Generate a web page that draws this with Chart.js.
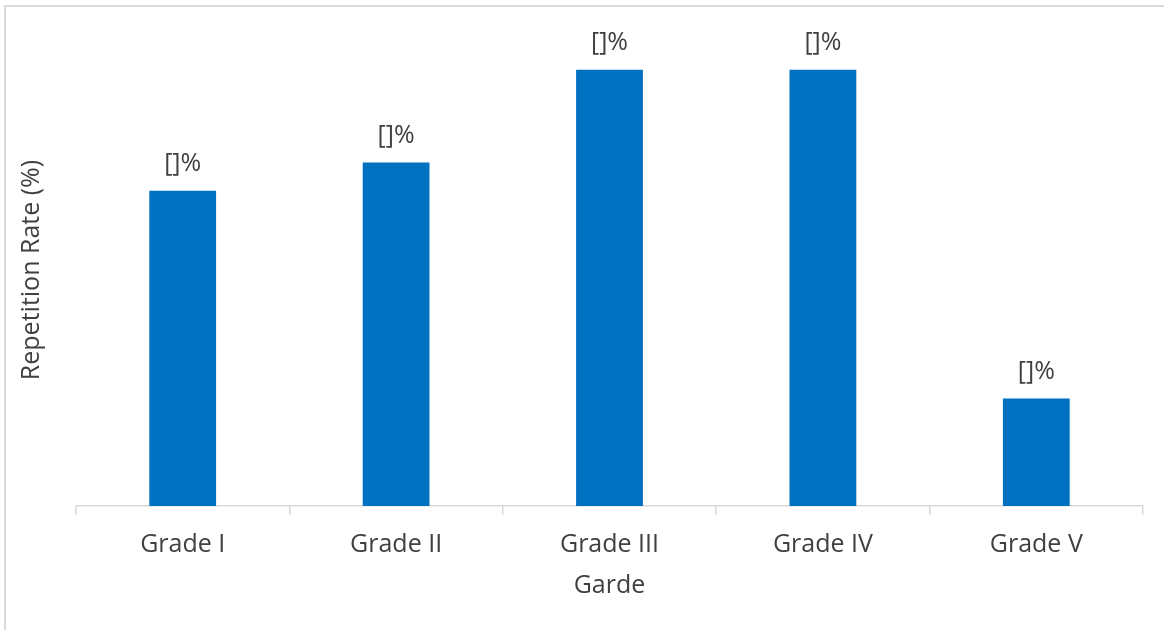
<!DOCTYPE html>
<html>
<head>
<meta charset="utf-8">
<script src="https://cdn.jsdelivr.net/npm/chart.js@4.4.1/dist/chart.umd.min.js"></script>
<style>
  html, body { margin: 0; padding: 0; background: #ffffff; }
  #wrap { width: 1164px; height: 630px; position: relative; }
</style>
</head>
<body>
<div id="wrap"><canvas id="c" width="1164" height="630"></canvas></div>
<script>
// Grades and their repetition rates (%)
const grades = ['Grade I', 'Grade II', 'Grade III', 'Grade IV', 'Grade V'];
const repetitionRates = [16.7, 18.2, 23.1, 23.1, 5.7];
const valueLabels = ['[]%', '[]%', '[]%', '[]%', '[]%'];

const FONT = "'Open Sans', 'Segoe UI', sans-serif";
const FONT_SIZE = 25;
const TEXT = '#404040';
const LINE = '#d9d9d9';

// Light frame around the chart
const framePlugin = {
  id: 'frame',
  beforeDraw(chart) {
    const ctx = chart.ctx;
    ctx.save();
    ctx.fillStyle = '#ffffff';
    ctx.fillRect(0, 0, chart.width, chart.height);
    ctx.strokeStyle = LINE;
    ctx.lineWidth = 2;
    ctx.strokeRect(5, 6, chart.width + 20, chart.height + 20);
    ctx.restore();
  }
};

// Text label above each bar
const valueLabelPlugin = {
  id: 'valueLabels',
  afterDatasetsDraw(chart) {
    const ctx = chart.ctx;
    const meta = chart.getDatasetMeta(0);
    ctx.save();
    ctx.font = FONT_SIZE + 'px ' + FONT;
    ctx.fillStyle = TEXT;
    ctx.textAlign = 'center';
    ctx.textBaseline = 'middle';
    meta.data.forEach((bar, i) => {
      ctx.fillText(valueLabels[i], bar.x, bar.y - 27);
    });
    ctx.restore();
  }
};

new Chart(document.getElementById('c'), {
  type: 'bar',
  data: {
    labels: grades,
    datasets: [{
      data: repetitionRates,
      backgroundColor: '#0070C0',
      borderWidth: 0,
      categoryPercentage: 1,
      barPercentage: 0.313
    }]
  },
  options: {
    responsive: false,
    animation: false,
    devicePixelRatio: 1,
    layout: { padding: { top: 34, right: 21, bottom: 0, left: 0 } },
    plugins: { legend: { display: false }, tooltip: { enabled: false } },
    scales: {
      x: {
        grid: {
          display: true,
          drawOnChartArea: false,
          drawTicks: true,
          tickLength: 9,
          color: LINE,
          lineWidth: 1.5,
          offset: true
        },
        border: { display: true, color: LINE, width: 1.5 },
        ticks: {
          color: TEXT,
          font: { family: FONT, size: FONT_SIZE },
          padding: 15,
          maxRotation: 0
        },
        title: {
          display: true,
          text: 'Garde',
          color: TEXT,
          font: { family: FONT, size: FONT_SIZE },
          padding: { top: 0, bottom: 29 }
        },
        afterFit(scale) { scale.height = 124; }
      },
      y: {
        min: 0,
        max: 25,
        grid: { display: false, drawTicks: false },
        border: { display: false },
        ticks: { display: false },
        title: {
          display: true,
          text: 'Repetition Rate (%)',
          color: TEXT,
          font: { family: FONT, size: FONT_SIZE },
          padding: { top: 17, bottom: 0 }
        },
        afterFit(scale) { scale.width = 76; }
      }
    }
  },
  plugins: [framePlugin, valueLabelPlugin]
});
</script>
</body>
</html>
